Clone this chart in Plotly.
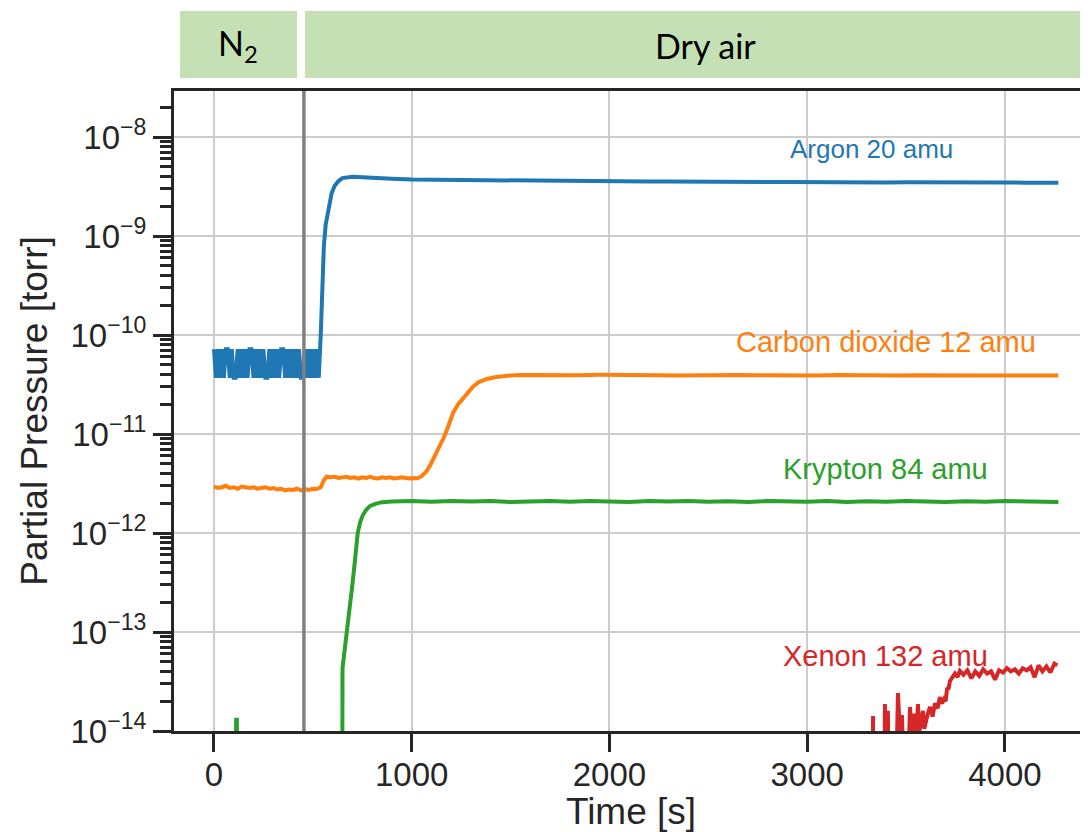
import plotly.graph_objects as go

# ---------------- data ----------------
# Argon 20 amu
ar_t = [0, 10, 20, 30, 40, 50, 60, 70, 80, 90,
        100, 110, 120, 130, 140, 150, 160, 170, 180, 190,
        200, 210, 220, 230, 240, 250, 260, 270, 280, 290,
        300, 310, 320, 330, 340, 350, 360, 370, 380, 390,
        400, 410, 420, 430, 440, 450, 460, 470, 480, 490,
        500, 510, 520, 530,
        540, 548, 556, 565, 580, 595, 610, 630, 650, 675,
        700, 750, 800, 900, 1000, 1100, 1200, 1300, 1400, 1500,
        1600, 1700, 1800, 1900, 2000, 2100, 2200, 2300, 2400, 2500,
        2600, 2700, 2800, 2900, 3000, 3100, 3200, 3300, 3400, 3500,
        3600, 3700, 3800, 3900, 4000, 4100, 4200, 4270]
ar_v = [7.2e-11, 3.7e-11, 7.2e-11, 3.7e-11, 7.2e-11, 3.7e-11, 7.2e-11, 7.2e-11, 3.7e-11, 7.2e-11,
        3.7e-11, 3.7e-11, 7.2e-11, 3.7e-11, 7.2e-11, 3.7e-11, 7.2e-11, 3.7e-11, 7.2e-11, 7.2e-11,
        3.7e-11, 7.2e-11, 3.7e-11, 7.2e-11, 3.7e-11, 7.2e-11, 3.7e-11, 3.7e-11, 7.2e-11, 3.7e-11,
        7.2e-11, 3.7e-11, 7.2e-11, 3.7e-11, 7.2e-11, 7.2e-11, 3.7e-11, 7.2e-11, 3.7e-11, 7.2e-11,
        3.7e-11, 7.2e-11, 3.7e-11, 7.2e-11, 3.7e-11, 3.7e-11, 7.2e-11, 3.7e-11, 7.2e-11, 3.7e-11,
        7.2e-11, 3.7e-11, 7.2e-11, 3.7e-11,
        1.0e-10, 3.7e-10, 8.0e-10, 1.3e-9, 2.0e-9, 2.7e-9, 3.2e-9, 3.6e-9, 3.85e-9, 3.95e-9,
        3.97e-9, 3.92e-9, 3.85e-9, 3.80e-9, 3.72e-9, 3.70e-9, 3.68e-9, 3.66e-9, 3.65e-9, 3.62e-9,
        3.62e-9, 3.60e-9, 3.60e-9, 3.58e-9, 3.56e-9, 3.57e-9, 3.55e-9, 3.55e-9, 3.53e-9, 3.54e-9,
        3.52e-9, 3.52e-9, 3.51e-9, 3.52e-9, 3.50e-9, 3.50e-9, 3.49e-9, 3.50e-9, 3.48e-9, 3.49e-9,
        3.47e-9, 3.48e-9, 3.47e-9, 3.46e-9, 3.47e-9, 3.46e-9, 3.46e-9, 3.45e-9]

# Carbon dioxide 12 amu
co2_t = [0, 20, 40, 60, 80, 100, 120, 140, 160, 180,
         200, 220, 240, 260, 280, 300, 320, 340, 360, 380,
         400, 420, 440, 460, 480, 500, 520, 540, 555, 570,
         590, 610, 630, 650, 670, 690, 710, 730, 750, 770,
         790, 810, 830, 850, 870, 890, 910, 930, 950, 970,
         990, 1010, 1030, 1050, 1075, 1095, 1110, 1125, 1143, 1160,
         1178, 1195, 1210, 1235, 1260, 1285, 1310, 1340, 1380, 1420,
         1460, 1500, 1550, 1650, 1750, 1850, 1950, 2050, 2150, 2250,
         2350, 2450, 2550, 2650, 2750, 2850, 2950, 3050, 3150, 3250,
         3350, 3450, 3550, 3650, 3750, 3850, 3950, 4050, 4150, 4270]
co2_v = [2.95e-12, 2.85e-12, 2.90e-12, 3.00e-12, 2.85e-12, 2.90e-12, 2.80e-12, 2.95e-12, 2.90e-12, 2.85e-12,
         2.90e-12, 2.80e-12, 2.85e-12, 2.90e-12, 2.80e-12, 2.85e-12, 2.75e-12, 2.80e-12, 2.70e-12, 2.75e-12,
         2.72e-12, 2.80e-12, 2.70e-12, 2.78e-12, 2.72e-12, 2.80e-12, 2.78e-12, 2.90e-12, 3.40e-12, 3.70e-12,
         3.65e-12, 3.70e-12, 3.60e-12, 3.65e-12, 3.70e-12, 3.60e-12, 3.65e-12, 3.55e-12, 3.65e-12, 3.60e-12,
         3.70e-12, 3.60e-12, 3.55e-12, 3.65e-12, 3.60e-12, 3.65e-12, 3.55e-12, 3.60e-12, 3.65e-12, 3.60e-12,
         3.55e-12, 3.60e-12, 3.58e-12, 3.75e-12, 4.20e-12, 4.90e-12, 5.60e-12, 6.50e-12, 7.50e-12, 9.00e-12,
         1.10e-11, 1.35e-11, 1.65e-11, 2.00e-11, 2.30e-11, 2.70e-11, 3.00e-11, 3.35e-11, 3.60e-11, 3.75e-11,
         3.85e-11, 3.90e-11, 3.95e-11, 3.92e-11, 3.97e-11, 3.93e-11, 3.96e-11, 3.92e-11, 3.95e-11, 3.93e-11,
         3.90e-11, 3.94e-11, 3.91e-11, 3.95e-11, 3.92e-11, 3.90e-11, 3.93e-11, 3.91e-11, 3.94e-11, 3.90e-11,
         3.92e-11, 3.89e-11, 3.93e-11, 3.90e-11, 3.92e-11, 3.89e-11, 3.91e-11, 3.90e-11, 3.93e-11, 3.90e-11]

# Krypton 84 amu
kr_t = [0, 100, 111, 112, 116, 117, 130, 640, 648, 650,
        663, 677, 690, 700, 712, 727, 740, 752, 770, 790,
        820, 850, 900, 1000, 1100, 1200, 1300, 1400, 1500, 1600,
        1700, 1800, 1900, 2000, 2100, 2200, 2300, 2400, 2500, 2600,
        2700, 2800, 2900, 3000, 3100, 3200, 3300, 3400, 3500, 3600,
        3700, 3800, 3900, 4000, 4100, 4200, 4270]
kr_v = [1e-16, 1e-16, 1e-16, 1.3e-14, 1.3e-14, 1e-16, 1e-16, 1e-16, 1e-16, 4.3e-14,
        7.0e-14, 1.05e-13, 2.0e-13, 3.0e-13, 5.0e-13, 1.0e-12, 1.3e-12, 1.5e-12, 1.72e-12, 1.88e-12,
        1.98e-12, 2.05e-12, 2.08e-12, 2.10e-12, 2.07e-12, 2.11e-12, 2.08e-12, 2.10e-12, 2.06e-12, 2.09e-12,
        2.11e-12, 2.07e-12, 2.10e-12, 2.08e-12, 2.06e-12, 2.10e-12, 2.08e-12, 2.11e-12, 2.07e-12, 2.09e-12,
        2.06e-12, 2.10e-12, 2.08e-12, 2.07e-12, 2.10e-12, 2.06e-12, 2.09e-12, 2.07e-12, 2.10e-12, 2.08e-12,
        2.06e-12, 2.09e-12, 2.07e-12, 2.10e-12, 2.08e-12, 2.09e-12, 2.06e-12]

# Xenon 132 amu
xe_t = [3330, 3333, 3338, 3388, 3393, 3400, 3405, 3408, 3414, 3452,
        3459, 3466, 3474, 3479, 3486, 3514, 3520, 3527, 3535, 3540,
        3546, 3555, 3560, 3567, 3580, 3585, 3592, 3610, 3621, 3634,
        3646, 3660, 3671, 3682, 3692, 3700, 3707, 3715, 3722, 3735,
        3747, 3760, 3772, 3790, 3810, 3830, 3850, 3870, 3890, 3910,
        3930, 3950, 3970, 3990, 4010, 4030, 4050, 4070, 4090, 4110,
        4130, 4150, 4170, 4190, 4210, 4230, 4250, 4265]
xe_v = [1e-16, 1.42e-14, 1e-16, 1e-16, 1.87e-14, 1e-15, 8e-15, 1.6e-14, 1e-15, 5e-15,
        2.42e-14, 8e-15, 6e-15, 1.45e-14, 5e-15, 7e-15, 1.75e-14, 9e-15, 1.1e-14, 1.5e-14,
        8e-15, 1.2e-14, 1.87e-14, 1.0e-14, 1.3e-14, 1.6e-14, 1.05e-14, 1.5e-14, 1.75e-14, 1.4e-14,
        1.9e-14, 1.7e-14, 2.2e-14, 1.9e-14, 2.1e-14, 2.0e-14, 2.65e-14, 2.7e-14, 3.2e-14, 3.5e-14,
        3.8e-14, 3.5e-14, 4.05e-14, 3.7e-14, 4.1e-14, 3.4e-14, 4.0e-14, 3.6e-14, 4.2e-14, 3.8e-14,
        4.0e-14, 3.3e-14, 4.1e-14, 3.9e-14, 4.3e-14, 4.0e-14, 4.2e-14, 3.8e-14, 4.3e-14, 4.1e-14,
        4.4e-14, 3.5e-14, 4.6e-14, 4.0e-14, 4.5e-14, 3.9e-14, 4.8e-14, 4.6e-14]

series_names = ["Argon 20 amu", "Carbon dioxide 12 amu", "Krypton 84 amu", "Xenon 132 amu"]
series_colors = ["#1f77b4", "#ff7f0e", "#2ca02c", "#d62728"]

switch_time = 455  # N2 -> dry air
phase_labels = ["N<sub>2</sub>", "Dry air"]

x_ticks = [0, 1000, 2000, 3000, 4000]
y_tickvals = [1e-14, 1e-13, 1e-12, 1e-11, 1e-10, 1e-9, 1e-8]
y_ticktext = ["10<sup>\u221214</sup>", "10<sup>\u221213</sup>", "10<sup>\u221212</sup>",
              "10<sup>\u221211</sup>", "10<sup>\u221210</sup>", "10<sup>\u22129</sup>",
              "10<sup>\u22128</sup>"]
minor_vals = [k * 10.0 ** e for e in range(-15, -7) for k in range(2, 10)]

# ---------------- figure ----------------
AX = "#262626"
FONT = "Liberation Sans, Arial, sans-serif"

# the page body has an 8px margin; lay the figure out so the plot lands where intended
OFF = 8
FIG_W, FIG_H = 1088 - OFF, 832 - OFF
PL, PT, PB = 174, 91, 731          # page-pixel plot edges
ML, MT = PL - OFF, PT - OFF
MB = FIG_H - (PB - OFF)
PW = FIG_W - ML
PH = (PB - OFF) - MT

def px(x):   # page pixel -> paper x
    return (x - PL) / PW
def py(y):   # page pixel -> paper y
    return (PB - y) / PH

fig = go.Figure()
for t, v, name, col in zip([ar_t, co2_t, kr_t, xe_t], [ar_v, co2_v, kr_v, xe_v],
                           series_names, series_colors):
    fig.add_trace(go.Scatter(x=t, y=v, mode="lines", name=name,
                             line=dict(color=col, width=4), showlegend=False))

# vertical switch line
fig.add_shape(type="line", xref="x", yref="paper", x0=switch_time, x1=switch_time,
              y0=0, y1=1, line=dict(color="#808080", width=3.5), layer="above")

# banner boxes
BANNER = "#c5e0b4"
fig.add_shape(type="rect", xref="paper", yref="paper", x0=px(180), x1=px(297),
              y0=py(78), y1=py(11), fillcolor=BANNER, line=dict(width=0), layer="above")
fig.add_shape(type="rect", xref="paper", yref="paper", x0=px(305), x1=px(1088),
              y0=py(78), y1=py(11), fillcolor=BANNER, line=dict(width=0), layer="above")
fig.add_annotation(xref="paper", yref="paper", x=px(238), y=py(45), text=phase_labels[0],
                   xanchor="center", yanchor="middle", showarrow=False,
                   font=dict(family="Lato, sans-serif", size=34, color="black"))
fig.add_annotation(xref="paper", yref="paper", x=px(705), y=py(45), text=phase_labels[1],
                   xanchor="center", yanchor="middle", showarrow=False,
                   font=dict(family="Lato, sans-serif", size=34, color="black"))

# series labels
label_pos = [(3327, -8.12, 26), (3398, -10.07, 29), (3398, -11.35, 29), (3398, -13.24, 29)]
for (lx, ly, fs), name, col in zip(label_pos, series_names, series_colors):
    fig.add_annotation(x=lx, y=ly, xref="x", yref="y", text=name, showarrow=False,
                       xanchor="center", yanchor="middle",
                       font=dict(family=FONT, size=fs, color=col))

fig.update_layout(
    width=FIG_W, height=FIG_H,
    margin=dict(l=ML, r=0, t=MT, b=MB, autoexpand=False),
    paper_bgcolor="white", plot_bgcolor="white",
    font=dict(family=FONT, color=AX),
)
fig.update_xaxes(
    range=[-202, 4420], tickvals=x_ticks, ticks="outside", ticklen=18, tickwidth=3,
    tickcolor=AX, showline=True, linewidth=3, linecolor=AX, mirror=True,
    showgrid=True, gridcolor="#cccccc", gridwidth=2, zeroline=False,
    tickfont=dict(size=33, color=AX), ticklabelstandoff=-6,
    title=dict(text="Time [s]", font=dict(size=37, color=AX), standoff=8),
)
fig.update_yaxes(
    type="log", range=[-14, -7.535], tickvals=y_tickvals, ticktext=y_ticktext,
    ticks="outside", ticklen=18, tickwidth=3, tickcolor=AX,
    showline=True, linewidth=3, linecolor=AX, mirror=False,
    showgrid=True, gridcolor="#cccccc", gridwidth=2, zeroline=False,
    tickfont=dict(size=33, color=AX),
    minor=dict(tickvals=minor_vals, ticks="outside", ticklen=11, tickwidth=2.5,
               tickcolor=AX, showgrid=False),
    title=dict(text="Partial Pressure [torr]", font=dict(size=37, color=AX), standoff=12),
)

fig.write_html("out.html")
